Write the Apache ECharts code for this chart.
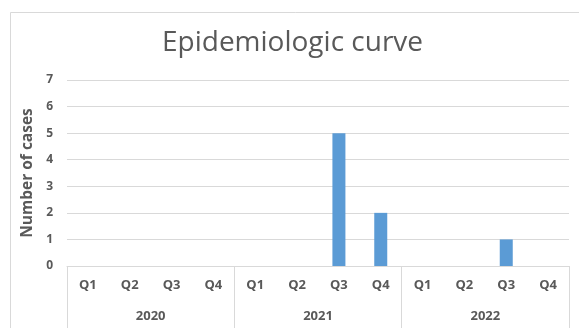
<!DOCTYPE html>
<html>
<head>
<meta charset="utf-8">
<script src="https://cdn.jsdelivr.net/npm/echarts@6/dist/echarts.min.js"></script>
<style>
  html, body { margin: 0; padding: 0; background: #fff; }
  #chart { width: 579px; height: 328px; }
</style>
</head>
<body>
<div id="chart"></div>
<script>
// Quarterly case counts, 2020–2022
const quarters = ['Q1', 'Q2', 'Q3', 'Q4', 'Q1', 'Q2', 'Q3', 'Q4', 'Q1', 'Q2', 'Q3', 'Q4'];
const years = ['2020', '2021', '2022'];
const cases = [0, 0, 0, 0, 0, 0, 5, 2, 0, 0, 1, 0];
const yTicks = { min: 0, max: 7, interval: 1 };

const textColor = '#595959';
const lineColor = '#d9d9d9';
const font = '"Open Sans", "Noto Sans", sans-serif';

const chart = echarts.init(document.getElementById('chart'), null, { renderer: 'canvas' });

chart.setOption({
  animation: false,
  backgroundColor: '#ffffff',
  textStyle: { fontFamily: font },
  title: {
    text: 'Epidemiologic curve',
    left: 157,
    top: 24,
    textStyle: { fontFamily: font, fontSize: 28, fontWeight: 'normal', color: textColor }
  },
  graphic: [{
    type: 'rect',
    silent: true,
    shape: { x: 10.5, y: 12.5, width: 700, height: 500 },
    style: { fill: 'none', stroke: lineColor, lineWidth: 1 }
  }],
  grid: { left: 67, right: 10, top: 80, bottom: 62 },
  xAxis: [
    {
      type: 'category',
      data: quarters,
      position: 'bottom',
      axisLine: { show: true, lineStyle: { color: lineColor } },
      axisTick: { show: false },
      axisLabel: { margin: 13, color: textColor, fontWeight: 'bold', fontSize: 13, fontFamily: font }
    },
    {
      type: 'category',
      data: years,
      position: 'bottom',
      boundaryGap: true,
      axisLine: { show: false },
      axisTick: { show: true, length: 80, lineStyle: { color: lineColor } },
      axisLabel: { margin: 44, color: textColor, fontWeight: 'bold', fontSize: 13, fontFamily: font }
    }
  ],
  yAxis: {
    type: 'value',
    min: yTicks.min,
    max: yTicks.max,
    interval: yTicks.interval,
    name: 'Number of cases',
    nameLocation: 'middle',
    nameRotate: 90,
    nameGap: 28,
    nameTextStyle: { color: textColor, fontWeight: 'bold', fontSize: 15.5, fontFamily: font },
    axisLine: { show: false },
    axisTick: { show: false },
    axisLabel: { margin: 14, color: textColor, fontWeight: 'bold', fontSize: 12, fontFamily: font },
    splitLine: { lineStyle: { color: lineColor } }
  },
  series: [{
    type: 'bar',
    xAxisIndex: 0,
    data: cases,
    barWidth: 13,
    itemStyle: { color: '#5b9bd5' }
  }]
});
</script>
</body>
</html>
